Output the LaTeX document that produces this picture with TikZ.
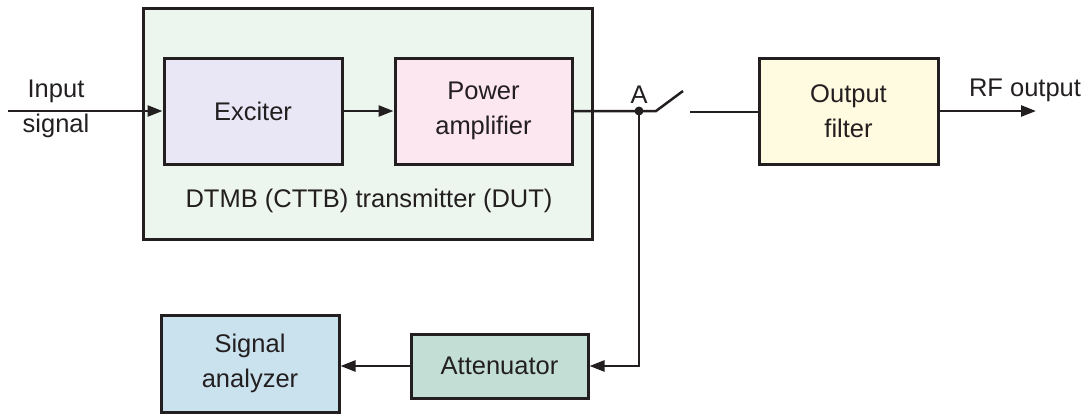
\documentclass[tikz,border=0pt]{standalone}
\usepackage{fontspec}
\setmainfont{Liberation Sans}
\usetikzlibrary{arrows.meta}
\definecolor{ink}{HTML}{231F20}
\definecolor{dutfill}{HTML}{EDF6EE}
\definecolor{excfill}{HTML}{E9E7F5}
\definecolor{pafill}{HTML}{FCE6F0}
\definecolor{offill}{HTML}{FEFBE0}
\definecolor{attfill}{HTML}{C3DFD5}
\definecolor{safill}{HTML}{CAE2EE}
\tikzset{
  blk/.style={draw=ink, line width=3pt, inner sep=0pt, align=center, text=ink},
  conn/.style={draw=ink, line width=2.5pt},
  arr/.style={conn, -{Triangle[length=15pt,width=11pt]}},
  lbl/.style={text=ink, align=center, inner sep=0pt},
}
\begin{document}
\begin{tikzpicture}[x=1pt,y=-1pt,font=\fontsize{25.5}{35}\selectfont]
\useasboundingbox (0,0) rectangle (1086,413);
\node[blk, fill=dutfill, minimum width=449pt, minimum height=231pt] (dut) at (367.5,123.5) {};
\node[blk, fill=excfill, minimum width=178pt, minimum height=106pt] (exc) at (253,111) {Exciter};
\node[blk, fill=pafill, minimum width=177pt, minimum height=106pt] (pa) at (483.5,111) {Power\\amplifier};
\node[blk, fill=offill, minimum width=179pt, minimum height=106pt] (of) at (848.5,111) {Output\\filter};
\node[blk, fill=attfill, minimum width=177pt, minimum height=64pt] (att) at (499.5,366) {Attenuator};
\node[blk, fill=safill, minimum width=178pt, minimum height=97pt] (sa) at (250,363.5) {Signal\\analyzer};
\node[lbl] (dutl) at (369,201) {DTMB (CTTB) transmitter (DUT)};
\node[lbl] (inl) at (56,109) {Input\\signal};
\node[lbl] (rfl) at (1025,90) {RF output};
\coordinate (in) at (8,111);
\coordinate (A) at (639,111);
\node[lbl] (Al) at (639,95) {A};
\coordinate (sw1) at (656,111);
\coordinate (sw2) at (683,91);
\coordinate (sw3) at (690,112);
\coordinate (rf) at (1036,111);
\coordinate (down) at (639,366);
\draw[arr] (in) -- (exc.west);
\draw[arr] (exc.east) -- (pa.west);
\draw[conn] (pa.east) -- (A) -- (sw1) -- (sw2);
\draw[conn] (sw3) -- (of.west |- sw3);
\draw[arr] (of.east) -- (rf);
\draw[arr] (A) -- (down) -- (att.east);
\draw[arr] (att.west) -- (sa.east |- att.west);
\fill[ink] (A) circle (4.5pt);
\end{tikzpicture}
\end{document}
